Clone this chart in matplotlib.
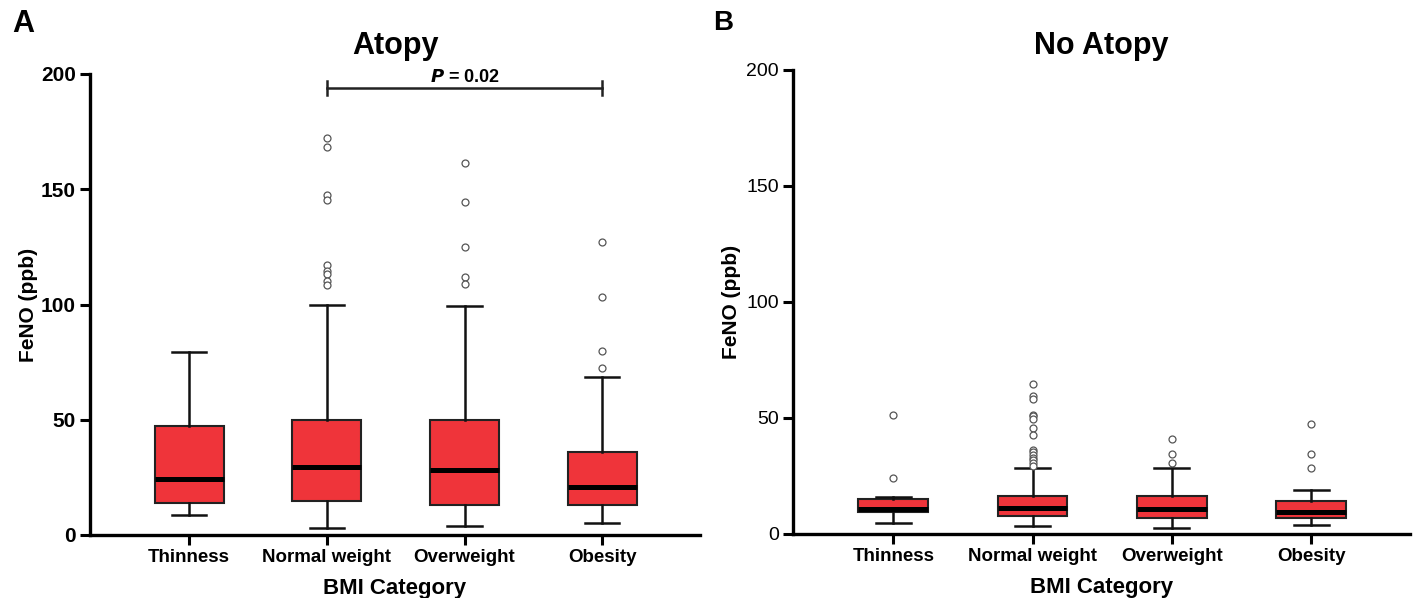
import matplotlib
matplotlib.use('Agg')
import matplotlib.pyplot as plt

categories = ['Thinness', 'Normal weight', 'Overweight', 'Obesity']

# Atopy (panel A) box statistics
atopy_whislo = [8.5, 3.0, 4.0, 5.2]
atopy_q1 = [14.0, 14.8, 13.0, 13.0]
atopy_med = [24.3, 29.5, 28.4, 20.8]
atopy_q3 = [47.5, 49.7, 49.7, 35.8]
atopy_whishi = [79.5, 99.8, 99.5, 68.5]
atopy_fliers = [
    [],
    [172.3, 168.2, 147.7, 145.3, 117.0, 114.5, 113.3, 110.3, 108.6],
    [161.3, 144.3, 124.9, 111.9, 108.7],
    [127.0, 103.2, 79.9, 72.3],
]

# No atopy (panel B)
noatopy_whislo = [4.8, 3.6, 2.7, 3.9]
noatopy_q1 = [9.4, 7.9, 7.1, 7.1]
noatopy_med = [10.7, 11.4, 10.6, 9.3]
noatopy_q3 = [15.3, 16.3, 16.3, 14.4]
noatopy_whishi = [15.9, 28.4, 28.3, 18.9]
noatopy_fliers = [
    [51.2, 24.2],
    [64.6, 59.6, 58.3, 51.4, 50.7, 49.4, 45.7, 42.7, 36.4, 35.3, 34.1,
     32.9, 31.7, 30.6, 29.4],
    [41.0, 34.4, 30.7],
    [47.2, 34.4, 28.4],
]

pval_text = '= 0.02'

narrow = ['Liberation Sans Narrow', 'Liberation Sans', 'DejaVu Sans']
arial = ['Liberation Sans', 'DejaVu Sans']
box_red = '#EF343A'


def make_stats(whislo, q1, med, q3, whishi, fliers):
    stats = []
    for i in range(len(categories)):
        stats.append({'whislo': whislo[i], 'q1': q1[i], 'med': med[i],
                      'q3': q3[i], 'whishi': whishi[i], 'fliers': fliers[i],
                      'label': categories[i]})
    return stats


def draw_panel(ax, stats, tick_weight):
    ax.bxp(stats, positions=[1, 2, 3, 4], widths=0.5, capwidths=0.25,
           patch_artist=True, showfliers=True,
           boxprops=dict(facecolor=box_red, edgecolor='#222222', linewidth=1.5),
           medianprops=dict(color='black', linewidth=3.6),
           whiskerprops=dict(color='#111111', linewidth=1.8),
           capprops=dict(color='#111111', linewidth=1.8),
           flierprops=dict(marker='o', markersize=5, markerfacecolor='white',
                           markeredgecolor='#555555', markeredgewidth=0.9,
                           linestyle='none'))
    ax.set_xlim(0.28, 4.71)
    ax.set_ylim(0, 200)
    ax.set_yticks([0, 50, 100, 150, 200])
    ax.spines['top'].set_visible(False)
    ax.spines['right'].set_visible(False)
    ax.spines['left'].set_linewidth(2.4)
    ax.spines['bottom'].set_linewidth(2.4)
    ax.spines['bottom'].set_capstyle('projecting')
    ax.spines['left'].set_capstyle('projecting')
    ax.tick_params(axis='both', direction='out', length=7, width=2.2, pad=3)
    ax.set_xticks([1, 2, 3, 4])
    ax.set_xticklabels(categories, family=narrow, fontweight='bold', fontsize=13.5)
    for lab in ax.get_yticklabels():
        lab.set_family(narrow if tick_weight == 'bold' else arial)
        lab.set_fontweight(tick_weight)
        lab.set_fontsize(15 if tick_weight == 'bold' else 14)
    ax.set_xlabel('BMI Category', family=narrow, fontweight='bold', fontsize=16, labelpad=9)


fig = plt.figure(figsize=(14.16, 5.98), dpi=100)
ax1 = fig.add_axes([90 / 1416, 1 - 535 / 598, 610 / 1416, 461 / 598])
ax2 = fig.add_axes([793 / 1416, 1 - 534 / 598, 617 / 1416, 464 / 598])

draw_panel(ax1, make_stats(atopy_whislo, atopy_q1, atopy_med, atopy_q3,
                           atopy_whishi, atopy_fliers), 'bold')
draw_panel(ax2, make_stats(noatopy_whislo, noatopy_q1, noatopy_med, noatopy_q3,
                           noatopy_whishi, noatopy_fliers), 'normal')

ax1.set_ylabel('FeNO (ppb)', family=arial, fontweight='bold', fontsize=15, labelpad=2)
ax2.set_ylabel('FeNO (ppb)', family=arial, fontweight='bold', fontsize=15, labelpad=4)

# panel titles, both on one baseline
fig.text(395 / 1416, 1 - 54 / 598, 'Atopy', family=narrow, fontweight='bold',
         fontsize=22, ha='center', va='baseline')
fig.text(1101 / 1416, 1 - 54 / 598, 'No Atopy', family=narrow, fontweight='bold',
         fontsize=22, ha='center', va='baseline')

# significance bracket between Normal weight and Obesity
ax1.plot([2, 4], [194, 194], color='#222222', linewidth=1.8, clip_on=False)
ax1.plot([2, 2], [191, 197], color='#222222', linewidth=1.8, clip_on=False)
ax1.plot([4, 4], [191, 197], color='#222222', linewidth=1.8, clip_on=False)
ax1.text(3, 196.6, r'$\bfit{P}$ ' + pval_text, ha='center', va='baseline',
         family=narrow, fontweight='bold', fontsize=13)

fig.text(12 / 1416, 1 - 24 / 598, 'A', family=narrow, fontweight='bold',
         fontsize=22, va='center', ha='left')
fig.text(713 / 1416, 1 - 23 / 598, 'B', family=arial, fontweight='bold',
         fontsize=20, va='center', ha='left')

fig.savefig('out.png', dpi=100)
